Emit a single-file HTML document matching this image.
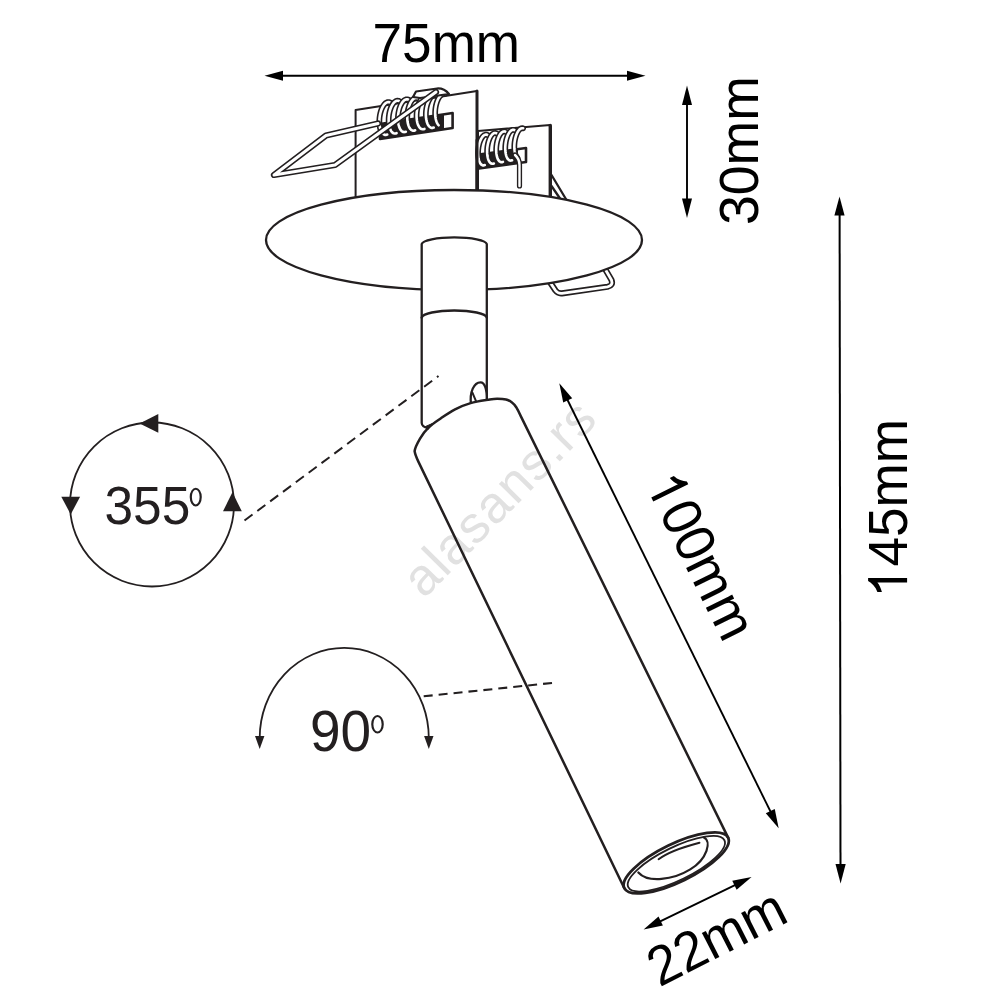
<!DOCTYPE html>
<html><head><meta charset="utf-8"><style>
html,body{margin:0;padding:0;background:#fff;width:1000px;height:1000px;overflow:hidden}
svg{display:block}
text{font-family:"Liberation Sans",sans-serif}
</style></head><body>
<svg width="1000" height="1000" viewBox="0 0 1000 1000">
<rect width="1000" height="1000" fill="#fff"/>

<g fill="#fff" stroke="#231f20" stroke-width="2" stroke-linejoin="round" stroke-linecap="round">
  <path d="M355.6,197 V110 L477,91 V197 Z"/>
  <path d="M478,131 L550.3,125 V197 H478 Z"/>
  <line x1="477" y1="91" x2="477" y2="197" stroke-width="3"/>
  <line x1="550.3" y1="125.5" x2="550.3" y2="197" stroke-width="3.4"/>
  <path d="M551.5,175 L566.5,200 M551.5,186 L560,198.5" fill="none" stroke-width="2.3"/>
</g>

<!-- spring 1 -->
<g fill="none" stroke-linecap="round" stroke-linejoin="round">
  <path d="M380,139 L452.6,128 V113 L380,124 Z" fill="#fff" stroke="#231f20" stroke-width="2.6"/>
  <path d="M380,139 L444,129.3 V114.3 L380,124 Z" fill="#231f20"/>
  <path d="M390.6,102.85 L389.68,102.33 L388.72,102.09 L387.74,102.13 L386.74,102.45 L385.74,103.04 L384.76,103.9 L383.83,105 L382.95,106.34 L382.13,107.89 L381.4,109.62 L380.77,111.5 L380.24,113.5 L379.83,115.58 L379.54,117.72 L379.38,119.86 L379.35,121.99 L379.45,124.06 L379.68,126.03 L380.03,127.87 L380.51,129.55 L381.09,131.04 L381.78,132.32 L382.55,133.36 L383.4,134.15 L384.32,134.67 L385.28,134.91 L386.26,134.87 L387.26,134.55" stroke="#231f20" stroke-width="5.8"/>
<path d="M390.6,102.85 L389.68,102.33 L388.72,102.09 L387.74,102.13 L386.74,102.45 L385.74,103.04 L384.76,103.9 L383.83,105 L382.95,106.34 L382.13,107.89 L381.4,109.62 L380.77,111.5 L380.24,113.5 L379.83,115.58 L379.54,117.72 L379.38,119.86 L379.35,121.99 L379.45,124.06 L379.68,126.03 L380.03,127.87 L380.51,129.55 L381.09,131.04 L381.78,132.32 L382.55,133.36 L383.4,134.15 L384.32,134.67 L385.28,134.91 L386.26,134.87 L387.26,134.55" stroke="#fff" stroke-width="2.6"/>
<path d="M399.9,101.45 L398.98,100.93 L398.02,100.69 L397.04,100.73 L396.04,101.05 L395.04,101.64 L394.06,102.5 L393.13,103.6 L392.25,104.94 L391.43,106.49 L390.7,108.22 L390.07,110.1 L389.54,112.1 L389.13,114.18 L388.84,116.32 L388.68,118.46 L388.65,120.59 L388.75,122.66 L388.98,124.63 L389.33,126.47 L389.81,128.15 L390.39,129.64 L391.08,130.92 L391.85,131.96 L392.7,132.75 L393.62,133.27 L394.58,133.51 L395.56,133.47 L396.56,133.15" stroke="#231f20" stroke-width="5.8"/>
<path d="M399.9,101.45 L398.98,100.93 L398.02,100.69 L397.04,100.73 L396.04,101.05 L395.04,101.64 L394.06,102.5 L393.13,103.6 L392.25,104.94 L391.43,106.49 L390.7,108.22 L390.07,110.1 L389.54,112.1 L389.13,114.18 L388.84,116.32 L388.68,118.46 L388.65,120.59 L388.75,122.66 L388.98,124.63 L389.33,126.47 L389.81,128.15 L390.39,129.64 L391.08,130.92 L391.85,131.96 L392.7,132.75 L393.62,133.27 L394.58,133.51 L395.56,133.47 L396.56,133.15" stroke="#fff" stroke-width="2.6"/>
<path d="M409.2,100.05 L408.28,99.53 L407.32,99.29 L406.34,99.33 L405.34,99.65 L404.34,100.24 L403.36,101.1 L402.43,102.2 L401.55,103.54 L400.73,105.09 L400,106.82 L399.37,108.7 L398.84,110.7 L398.43,112.78 L398.14,114.92 L397.98,117.06 L397.95,119.19 L398.05,121.26 L398.28,123.23 L398.63,125.07 L399.11,126.75 L399.69,128.24 L400.38,129.52 L401.15,130.56 L402,131.35 L402.92,131.87 L403.88,132.11 L404.86,132.07 L405.86,131.75" stroke="#231f20" stroke-width="5.8"/>
<path d="M409.2,100.05 L408.28,99.53 L407.32,99.29 L406.34,99.33 L405.34,99.65 L404.34,100.24 L403.36,101.1 L402.43,102.2 L401.55,103.54 L400.73,105.09 L400,106.82 L399.37,108.7 L398.84,110.7 L398.43,112.78 L398.14,114.92 L397.98,117.06 L397.95,119.19 L398.05,121.26 L398.28,123.23 L398.63,125.07 L399.11,126.75 L399.69,128.24 L400.38,129.52 L401.15,130.56 L402,131.35 L402.92,131.87 L403.88,132.11 L404.86,132.07 L405.86,131.75" stroke="#fff" stroke-width="2.6"/>
<path d="M418.5,98.65 L417.58,98.13 L416.62,97.89 L415.64,97.93 L414.64,98.25 L413.64,98.84 L412.66,99.7 L411.73,100.8 L410.85,102.14 L410.03,103.69 L409.3,105.42 L408.67,107.3 L408.14,109.3 L407.73,111.38 L407.44,113.52 L407.28,115.66 L407.25,117.79 L407.35,119.86 L407.58,121.83 L407.93,123.67 L408.41,125.35 L408.99,126.84 L409.68,128.12 L410.45,129.16 L411.3,129.95 L412.22,130.47 L413.18,130.71 L414.16,130.67 L415.16,130.35" stroke="#231f20" stroke-width="5.8"/>
<path d="M418.5,98.65 L417.58,98.13 L416.62,97.89 L415.64,97.93 L414.64,98.25 L413.64,98.84 L412.66,99.7 L411.73,100.8 L410.85,102.14 L410.03,103.69 L409.3,105.42 L408.67,107.3 L408.14,109.3 L407.73,111.38 L407.44,113.52 L407.28,115.66 L407.25,117.79 L407.35,119.86 L407.58,121.83 L407.93,123.67 L408.41,125.35 L408.99,126.84 L409.68,128.12 L410.45,129.16 L411.3,129.95 L412.22,130.47 L413.18,130.71 L414.16,130.67 L415.16,130.35" stroke="#fff" stroke-width="2.6"/>
<path d="M427.8,97.25 L426.88,96.73 L425.92,96.49 L424.94,96.53 L423.94,96.85 L422.94,97.44 L421.96,98.3 L421.03,99.4 L420.15,100.74 L419.33,102.29 L418.6,104.02 L417.97,105.9 L417.44,107.9 L417.03,109.98 L416.74,112.12 L416.58,114.26 L416.55,116.39 L416.65,118.46 L416.88,120.43 L417.23,122.27 L417.71,123.95 L418.29,125.44 L418.98,126.72 L419.75,127.76 L420.6,128.55 L421.52,129.07 L422.48,129.31 L423.46,129.27 L424.46,128.95" stroke="#231f20" stroke-width="5.8"/>
<path d="M427.8,97.25 L426.88,96.73 L425.92,96.49 L424.94,96.53 L423.94,96.85 L422.94,97.44 L421.96,98.3 L421.03,99.4 L420.15,100.74 L419.33,102.29 L418.6,104.02 L417.97,105.9 L417.44,107.9 L417.03,109.98 L416.74,112.12 L416.58,114.26 L416.55,116.39 L416.65,118.46 L416.88,120.43 L417.23,122.27 L417.71,123.95 L418.29,125.44 L418.98,126.72 L419.75,127.76 L420.6,128.55 L421.52,129.07 L422.48,129.31 L423.46,129.27 L424.46,128.95" stroke="#fff" stroke-width="2.6"/>
<path d="M437.1,95.85 L436.18,95.33 L435.22,95.09 L434.24,95.13 L433.24,95.45 L432.24,96.04 L431.26,96.9 L430.33,98 L429.45,99.34 L428.63,100.89 L427.9,102.62 L427.27,104.5 L426.74,106.5 L426.33,108.58 L426.04,110.72 L425.88,112.86 L425.85,114.99 L425.95,117.06 L426.18,119.03 L426.53,120.87 L427.01,122.55 L427.59,124.04 L428.28,125.32 L429.05,126.36 L429.9,127.15 L430.82,127.67 L431.78,127.91 L432.76,127.87 L433.76,127.55" stroke="#231f20" stroke-width="5.8"/>
<path d="M437.1,95.85 L436.18,95.33 L435.22,95.09 L434.24,95.13 L433.24,95.45 L432.24,96.04 L431.26,96.9 L430.33,98 L429.45,99.34 L428.63,100.89 L427.9,102.62 L427.27,104.5 L426.74,106.5 L426.33,108.58 L426.04,110.72 L425.88,112.86 L425.85,114.99 L425.95,117.06 L426.18,119.03 L426.53,120.87 L427.01,122.55 L427.59,124.04 L428.28,125.32 L429.05,126.36 L429.9,127.15 L430.82,127.67 L431.78,127.91 L432.76,127.87 L433.76,127.55" stroke="#fff" stroke-width="2.6"/>
<path d="M445.17,93.82 L444.41,93.68 L443.63,93.71 L442.85,93.92 L442.06,94.3 L441.28,94.84 L440.52,95.54 L439.78,96.4 L439.07,97.41 L438.41,98.54 L437.79,99.8 L437.22,101.17 L436.71,102.64 L436.27,104.18 L435.89,105.78 L435.59,107.43 L435.36,109.11 L435.22,110.8 L435.15,112.48 L435.16,114.14 L435.26,115.75 L435.43,117.31 L435.68,118.78 L436.01,120.17 L436.41,121.45 L436.88,122.61 L437.41,123.64 L437.99,124.52 L438.63,125.25" stroke="#231f20" stroke-width="5.8"/>
<path d="M445.17,93.82 L444.41,93.68 L443.63,93.71 L442.85,93.92 L442.06,94.3 L441.28,94.84 L440.52,95.54 L439.78,96.4 L439.07,97.41 L438.41,98.54 L437.79,99.8 L437.22,101.17 L436.71,102.64 L436.27,104.18 L435.89,105.78 L435.59,107.43 L435.36,109.11 L435.22,110.8 L435.15,112.48 L435.16,114.14 L435.26,115.75 L435.43,117.31 L435.68,118.78 L436.01,120.17 L436.41,121.45 L436.88,122.61 L437.41,123.64 L437.99,124.52 L438.63,125.25" stroke="#fff" stroke-width="2.6"/>
  <path d="M413,97 L416,91.5 L437,88.5 Q444,88 449,94 L420,98 Z" fill="#fff" stroke="#231f20" stroke-width="2.2"/>
  <path d="M378,123.5 L326,135.5 L274,175 L335,165 L436,92" stroke="#231f20" stroke-width="6.2" fill="none"/><path d="M378,123.5 L326,135.5 L274,175 L335,165 L436,92" stroke="#fff" stroke-width="3" fill="none"/>
</g>

<!-- spring 2 -->
<g fill="none" stroke-linecap="round" stroke-linejoin="round">
  <path d="M479,168.5 L526,162 V148 L479,154.5 Z" fill="#fff" stroke="#231f20" stroke-width="2.6"/>
  <path d="M479,168.5 L518,163.2 V149.2 L479,154.5 Z" fill="#231f20"/>
  <path d="M487.94,135.29 L487.15,134.81 L486.32,134.58 L485.46,134.63 L484.59,134.93 L483.72,135.5 L482.87,136.31 L482.05,137.36 L481.27,138.62 L480.56,140.08 L479.91,141.7 L479.35,143.47 L478.88,145.35 L478.5,147.31 L478.24,149.32 L478.08,151.34 L478.04,153.33 L478.11,155.27 L478.29,157.12 L478.59,158.85 L478.98,160.42 L479.48,161.82 L480.06,163.01 L480.73,163.98 L481.46,164.71 L482.25,165.19 L483.08,165.42 L483.94,165.37 L484.81,165.07" stroke="#231f20" stroke-width="5.8"/>
<path d="M487.94,135.29 L487.15,134.81 L486.32,134.58 L485.46,134.63 L484.59,134.93 L483.72,135.5 L482.87,136.31 L482.05,137.36 L481.27,138.62 L480.56,140.08 L479.91,141.7 L479.35,143.47 L478.88,145.35 L478.5,147.31 L478.24,149.32 L478.08,151.34 L478.04,153.33 L478.11,155.27 L478.29,157.12 L478.59,158.85 L478.98,160.42 L479.48,161.82 L480.06,163.01 L480.73,163.98 L481.46,164.71 L482.25,165.19 L483.08,165.42 L483.94,165.37 L484.81,165.07" stroke="#fff" stroke-width="2.6"/>
<path d="M497.01,133.69 L496.22,133.21 L495.39,132.98 L494.53,133.03 L493.66,133.33 L492.79,133.9 L491.94,134.71 L491.12,135.76 L490.34,137.02 L489.63,138.48 L488.98,140.1 L488.42,141.87 L487.95,143.75 L487.57,145.71 L487.31,147.72 L487.15,149.74 L487.11,151.73 L487.18,153.67 L487.36,155.52 L487.66,157.25 L488.05,158.82 L488.55,160.22 L489.13,161.41 L489.8,162.38 L490.53,163.11 L491.32,163.59 L492.15,163.82 L493.01,163.77 L493.88,163.47" stroke="#231f20" stroke-width="5.8"/>
<path d="M497.01,133.69 L496.22,133.21 L495.39,132.98 L494.53,133.03 L493.66,133.33 L492.79,133.9 L491.94,134.71 L491.12,135.76 L490.34,137.02 L489.63,138.48 L488.98,140.1 L488.42,141.87 L487.95,143.75 L487.57,145.71 L487.31,147.72 L487.15,149.74 L487.11,151.73 L487.18,153.67 L487.36,155.52 L487.66,157.25 L488.05,158.82 L488.55,160.22 L489.13,161.41 L489.8,162.38 L490.53,163.11 L491.32,163.59 L492.15,163.82 L493.01,163.77 L493.88,163.47" stroke="#fff" stroke-width="2.6"/>
<path d="M506.08,132.09 L505.29,131.61 L504.46,131.38 L503.6,131.43 L502.73,131.73 L501.86,132.3 L501.01,133.11 L500.19,134.16 L499.41,135.42 L498.7,136.88 L498.05,138.5 L497.49,140.27 L497.02,142.15 L496.64,144.11 L496.38,146.12 L496.22,148.14 L496.18,150.13 L496.25,152.07 L496.43,153.92 L496.73,155.65 L497.12,157.22 L497.62,158.62 L498.2,159.81 L498.87,160.78 L499.6,161.51 L500.39,161.99 L501.22,162.22 L502.08,162.17 L502.95,161.87" stroke="#231f20" stroke-width="5.8"/>
<path d="M506.08,132.09 L505.29,131.61 L504.46,131.38 L503.6,131.43 L502.73,131.73 L501.86,132.3 L501.01,133.11 L500.19,134.16 L499.41,135.42 L498.7,136.88 L498.05,138.5 L497.49,140.27 L497.02,142.15 L496.64,144.11 L496.38,146.12 L496.22,148.14 L496.18,150.13 L496.25,152.07 L496.43,153.92 L496.73,155.65 L497.12,157.22 L497.62,158.62 L498.2,159.81 L498.87,160.78 L499.6,161.51 L500.39,161.99 L501.22,162.22 L502.08,162.17 L502.95,161.87" stroke="#fff" stroke-width="2.6"/>
<path d="M515.15,130.49 L514.36,130.01 L513.53,129.78 L512.67,129.83 L511.8,130.13 L510.93,130.7 L510.08,131.51 L509.26,132.56 L508.48,133.82 L507.77,135.28 L507.12,136.9 L506.56,138.67 L506.09,140.55 L505.71,142.51 L505.45,144.52 L505.29,146.54 L505.25,148.53 L505.32,150.47 L505.5,152.32 L505.8,154.05 L506.19,155.62 L506.69,157.02 L507.27,158.21 L507.94,159.18 L508.67,159.91 L509.46,160.39 L510.29,160.62 L511.15,160.57 L512.02,160.27" stroke="#231f20" stroke-width="5.8"/>
<path d="M515.15,130.49 L514.36,130.01 L513.53,129.78 L512.67,129.83 L511.8,130.13 L510.93,130.7 L510.08,131.51 L509.26,132.56 L508.48,133.82 L507.77,135.28 L507.12,136.9 L506.56,138.67 L506.09,140.55 L505.71,142.51 L505.45,144.52 L505.29,146.54 L505.25,148.53 L505.32,150.47 L505.5,152.32 L505.8,154.05 L506.19,155.62 L506.69,157.02 L507.27,158.21 L507.94,159.18 L508.67,159.91 L509.46,160.39 L510.29,160.62 L511.15,160.57 L512.02,160.27" stroke="#fff" stroke-width="2.6"/>
<path d="M523.16,128.3 L522.5,128.18 L521.83,128.21 L521.14,128.41 L520.46,128.77 L519.78,129.29 L519.11,129.96 L518.46,130.77 L517.84,131.71 L517.26,132.79 L516.71,133.97 L516.21,135.26 L515.75,136.64 L515.36,138.09 L515.02,139.6 L514.74,141.15 L514.54,142.73 L514.4,144.31 L514.32,145.89 L514.32,147.45 L514.39,148.96 L514.53,150.42 L514.74,151.8 L515.01,153.1 L515.35,154.3 L515.75,155.39 L516.2,156.35 L516.7,157.17 L517.25,157.85" stroke="#231f20" stroke-width="5.8"/>
<path d="M523.16,128.3 L522.5,128.18 L521.83,128.21 L521.14,128.41 L520.46,128.77 L519.78,129.29 L519.11,129.96 L518.46,130.77 L517.84,131.71 L517.26,132.79 L516.71,133.97 L516.21,135.26 L515.75,136.64 L515.36,138.09 L515.02,139.6 L514.74,141.15 L514.54,142.73 L514.4,144.31 L514.32,145.89 L514.32,147.45 L514.39,148.96 L514.53,150.42 L514.74,151.8 L515.01,153.1 L515.35,154.3 L515.75,155.39 L516.2,156.35 L516.7,157.17 L517.25,157.85" stroke="#fff" stroke-width="2.6"/>
  <path d="M515,155 Q519.5,159 519.5,165 V186" stroke="#231f20" stroke-width="5.2" fill="none"/><path d="M515,155 Q519.5,159 519.5,165 V186" stroke="#fff" stroke-width="2.4" fill="none"/>
  <line x1="477" y1="140" x2="477" y2="197" stroke="#231f20" stroke-width="3"/>
</g>

<g fill="#fff" stroke="#231f20" stroke-width="2.3" stroke-linejoin="round" stroke-linecap="round">
  <path d="M549.5,281.5 L555.5,290.5 Q558,293.8 562,293.3 L607.5,286.8 Q613.5,285.5 611.5,280 L604.5,268" stroke="#231f20" stroke-width="6.2" fill="none"/><path d="M549.5,281.5 L555.5,290.5 Q558,293.8 562,293.3 L607.5,286.8 Q613.5,285.5 611.5,280 L604.5,268" stroke="#fff" stroke-width="2.8" fill="none"/>
  <ellipse cx="454" cy="240" rx="188" ry="50" stroke-width="2.3"/>
  <path d="M421.7,423 V244 A32.6,7 0 0 1 486.8,244 V400 L428,428 Q422,427 421.7,423 Z"/>
  <path d="M421.7,317.5 A32.6,7.5 0 0 1 486.8,317.5" fill="none" stroke-width="2.5"/>
  <path d="M471,404 C469.5,392 474,382.3 480.5,382.3 C485,382.3 487,390 486.8,400"/>
  <path d="M472.4,392.6 L476.2,401.6" fill="none" stroke-width="2"/>
  
  <path transform="translate(676,863) rotate(-26)" d="M-57.5,0 L-55.6,-474 C-55.5,-479 -55.2,-482 -54.4,-484.7 C-52.5,-488 -47.9,-491.1 -44,-493.7 C-40.1,-496.2 -35.6,-498.5 -31,-500 C-26.4,-501.5 -21.4,-502 -16.2,-502.8 C-11,-503.6 -5.2,-504.5 0.3,-504.6 C5.8,-504.7 11.4,-504.4 17,-503.4 C22.6,-502.4 29.8,-500.1 34.1,-498.8 C38.4,-497.5 40,-497.1 42.7,-495.8 C45.4,-494.5 48.4,-492.9 50.4,-491.2 C52.4,-489.5 53.5,-487.8 54.5,-485.9 C55.5,-484 55.9,-482.3 56.2,-479.7 C56.4,-477 56.4,-474 56.4,-470 L58,0 A57.75,19 0 0 1 -57.5,0 Z" stroke="none"/>
</g>

<text x="0" y="0" font-size="52" letter-spacing="1.4" fill="#e1e1e1" transform="translate(424,599.5) rotate(-45.5)">alasans.rs</text>

<g fill="none" stroke="#231f20" stroke-width="2.5" stroke-linejoin="round" stroke-linecap="round">
  <g transform="translate(676,863) rotate(-26)">
    <path d="M-57.5,0 L-55.6,-474 C-55.5,-479 -55.2,-482 -54.4,-484.7 C-52.5,-488 -47.9,-491.1 -44,-493.7 C-40.1,-496.2 -35.6,-498.5 -31,-500 C-26.4,-501.5 -21.4,-502 -16.2,-502.8 C-11,-503.6 -5.2,-504.5 0.3,-504.6 C5.8,-504.7 11.4,-504.4 17,-503.4 C22.6,-502.4 29.8,-500.1 34.1,-498.8 C38.4,-497.5 40,-497.1 42.7,-495.8 C45.4,-494.5 48.4,-492.9 50.4,-491.2 C52.4,-489.5 53.5,-487.8 54.5,-485.9 C55.5,-484 55.9,-482.3 56.2,-479.7 C56.4,-477 56.4,-474 56.4,-470 L58,0"/>
    <ellipse cx="0.25" cy="0" rx="57.75" ry="19" stroke-width="2.8"/>
    <ellipse cx="0" cy="0.8" rx="53.5" ry="16.5" stroke-width="1.8"/>
    <path d="M-38,-8 C-34,6 -10,14 10,12 C30,10 42,-4 36,-11" stroke-width="2.2"/>
    <path d="M-14,-11 C0,-14 20,-10 30,-8" stroke-width="2"/>
  </g>
  <path d="M425.5,426.5 L433.5,423 L428,429.5 Z" fill="#231f20" stroke-width="1"/>
</g>

<g stroke="#000" stroke-width="1.9" fill="#000">
  <line x1="280" y1="75.8" x2="630" y2="75.8"/>
  <path d="M264.5,75.8 L283,70.8 L283,80.8 Z" stroke="none"/>
  <path d="M645.5,75.8 L627,70.8 L627,80.8 Z" stroke="none"/>
  <line x1="687" y1="100" x2="687" y2="204"/>
  <path d="M687,85.5 L682,105 L692,105 Z" stroke="none"/>
  <path d="M687,218 L682,198.5 L692,198.5 Z" stroke="none"/>
  <line x1="839.6" y1="210" x2="840.5" y2="870" stroke-width="2"/>
  <path d="M839.5,196.5 L834.4,215.4 L844.6,215.4 Z" stroke="none"/>
  <path d="M840.6,883.4 L835.5,864 L845.7,864 Z" stroke="none"/>
  <g transform="translate(559.3,383.3) rotate(63.75)">
    <line x1="15" y1="0" x2="481" y2="0"/>
    <path d="M0,0 L19,-5 L19,5 Z" stroke="none"/>
    <path d="M496,0 L477,-5 L477,5 Z" stroke="none"/>
  </g>
  <g transform="translate(643.6,929.4) rotate(-25.9)">
    <line x1="15" y1="0" x2="105" y2="0"/>
    <path d="M0,0 L19,-5 L19,5 Z" stroke="none"/>
    <path d="M120,0 L101,-5 L101,5 Z" stroke="none"/>
  </g>
</g>

<g stroke="#231f20" stroke-width="1.8" fill="none">
  <circle cx="152" cy="504.5" r="82"/>
  <line x1="244.5" y1="520.5" x2="438.5" y2="376" stroke-dasharray="10,6" stroke-width="2"/>
  <path d="M259.7,738 A84.5,90 0 0 1 428.8,738"/>
  <line x1="423.7" y1="696.3" x2="554.6" y2="682.7" stroke-dasharray="9,6" stroke-width="2.1"/>
</g>
<g fill="#231f20">
  <path d="M139.6,423.4 L158.3,414 L158.3,432.8 Z"/>
  <path d="M70.7,514.4 L61.3,496.7 L80.1,496.7 Z"/>
  <path d="M232.4,492.3 L223,511.3 L241.8,511.3 Z"/>
  <path d="M259.7,749 L255,736 L264.4,736 Z"/>
  <path d="M428.8,749 L424.1,736 L433.5,736 Z"/>
</g>

<g fill="#000">
  <text font-size="53.1" transform="translate(372.6,62.3) scale(1,1.035)">75mm</text>
  <text font-size="53.5" transform="translate(758.2,224.9) rotate(-90) scale(1,1.05)">30mm</text>
  <g transform="translate(907.1,595.9) rotate(-90)"><path d="M13.3,0 H17.8 V-39 H14.8 C12.8,-35.5 9,-31.5 4,-29.7 V-25.2 C8.2,-26.4 11,-27.8 13.3,-29.7 Z"/><text font-size="53" x="29.48" transform="scale(1,1.05)">45mm</text></g>
  <g transform="translate(645.4,485.6) rotate(63.7)"><path d="M13.3,0 H17.8 V-39 H14.8 C12.8,-35.5 9,-31.5 4,-29.7 V-25.2 C8.2,-26.4 11,-27.8 13.3,-29.7 Z"/><text font-size="53" x="29.48" transform="scale(1,1.05)">00mm</text></g>
  <text font-size="53" transform="translate(659.5,987.5) rotate(-27) scale(1,1.05)">22mm</text>
</g>
<g fill="#231f20">
  <text font-size="51.4" transform="translate(104.5,524.3) scale(1,1.05)">355</text>
  <path fill-rule="evenodd" d="M189.7,497.05 A6.05,9.35 0 1 0 201.8,497.05 A6.05,9.35 0 1 0 189.7,497.05 Z M191.9,497.05 A3.8499999999999996,7.35 0 1 0 199.6,497.05 A3.8499999999999996,7.35 0 1 0 191.9,497.05 Z"/>
  <text font-size="55" transform="translate(309.9,751) scale(1,1.03)">90</text>
  <path fill-rule="evenodd" d="M371.2,724.25 A6.3,9.25 0 1 0 383.8,724.25 A6.3,9.25 0 1 0 371.2,724.25 Z M373.4,724.25 A4.1,7.25 0 1 0 381.6,724.25 A4.1,7.25 0 1 0 373.4,724.25 Z"/>
</g>
</svg>
</body></html>
